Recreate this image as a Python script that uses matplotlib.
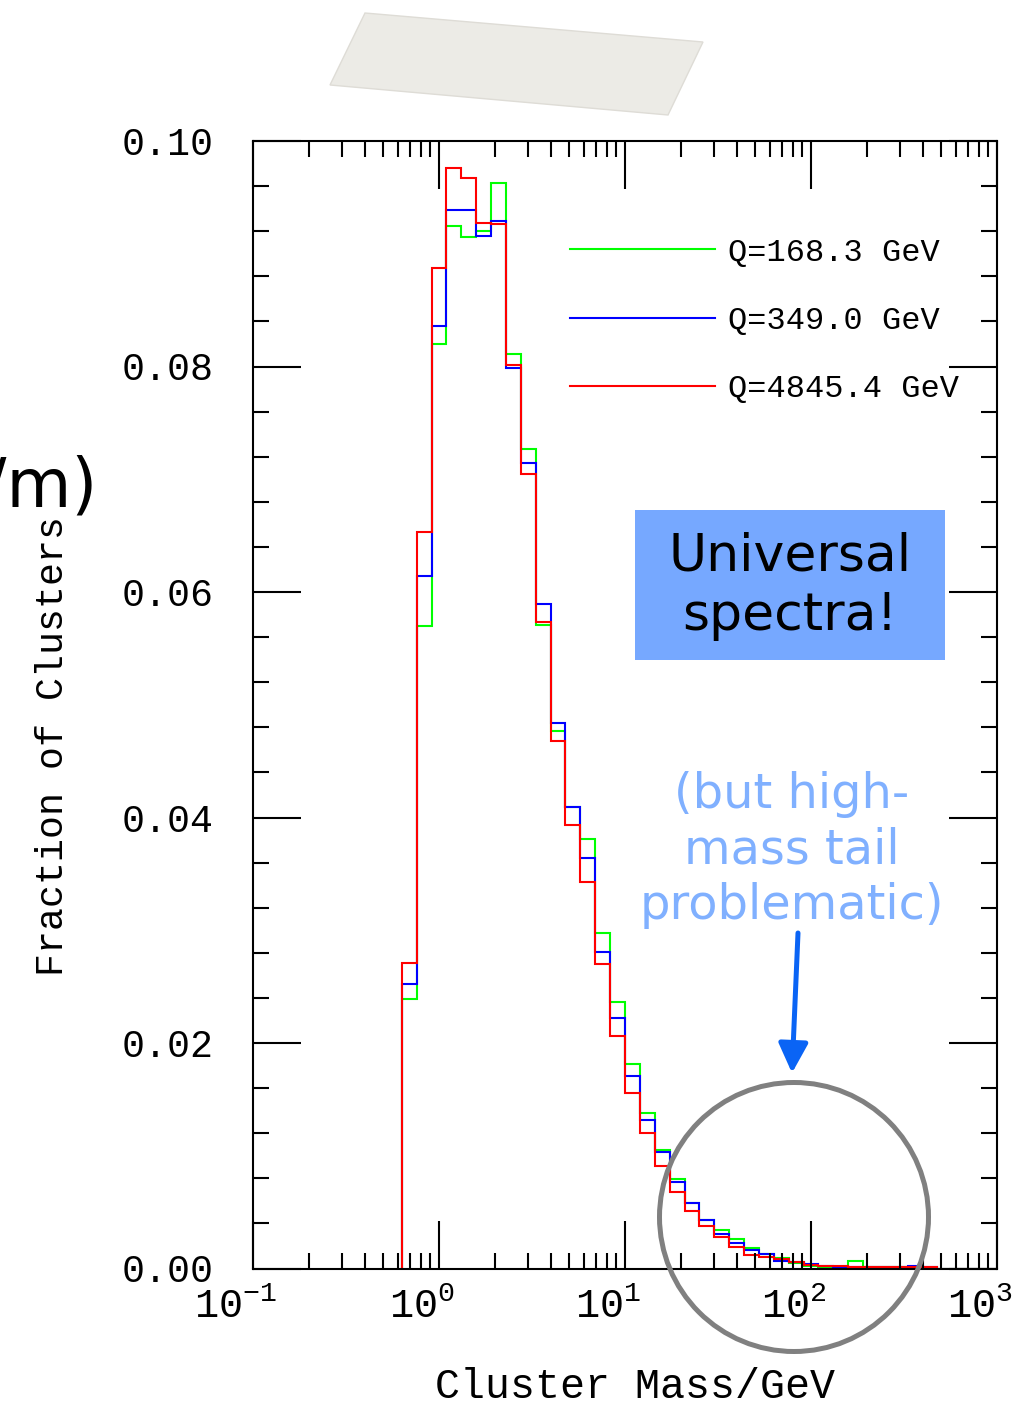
import matplotlib
matplotlib.use("Agg")
import matplotlib.pyplot as plt
import numpy as np
from matplotlib.patches import Rectangle, Circle, Polygon
from matplotlib.ticker import FixedLocator, LogLocator, MultipleLocator, NullFormatter
from matplotlib.transforms import ScaledTranslation

plt.rcParams['font.family'] = ['Liberation Mono', 'DejaVu Sans']
plt.rcParams['mathtext.fontset'] = 'custom'
plt.rcParams['mathtext.rm'] = 'Liberation Mono'
plt.rcParams['mathtext.it'] = 'Liberation Mono'
plt.rcParams['mathtext.bf'] = 'Liberation Mono'

# log10 bin edges: 40 bins of 0.08 decades from 10^-0.2 up to 10^3
edges = 10 ** (-0.2 + 0.08 * np.arange(41))

labels = ['Q=168.3 GeV', 'Q=349.0 GeV', 'Q=4845.4 GeV']
colors = ['#00ff00', '#0000ff', '#ff0000']

frac_q168 = [0.0239, 0.0570, 0.0820, 0.0925, 0.0915, 0.0920, 0.0963, 0.0811,
             0.0727, 0.0571, 0.0477, 0.0409, 0.0381, 0.0298, 0.0236, 0.0181,
             0.0138, 0.0105, 0.0079, 0.0058, 0.0043, 0.0034, 0.0026, 0.0018,
             0.0013, 0.0009, 0.0005, 0.0002, 0.0001, 0.0001, 0.0007, 0.0001,
             0.0001, 0.0001, 0.0000, 0.0000, 0.0000, 0.0000, 0.0000, 0.0000]
frac_q349 = [0.0252, 0.0614, 0.0836, 0.0939, 0.0939, 0.0916, 0.0929, 0.0799,
             0.0714, 0.0589, 0.0484, 0.0409, 0.0364, 0.0281, 0.0222, 0.0171,
             0.0132, 0.0103, 0.0077, 0.0058, 0.0043, 0.0031, 0.0023, 0.0016,
             0.0013, 0.0007, 0.0006, 0.0004, 0.0002, 0.0001, 0.0001, 0.0001,
             0.0001, 0.0001, 0.0002, 0.0001, 0.0000, 0.0000, 0.0000, 0.0000]
frac_q4845 = [0.0271, 0.0653, 0.0887, 0.0976, 0.0967, 0.0927, 0.0926, 0.0801,
              0.0705, 0.0573, 0.0468, 0.0393, 0.0343, 0.0270, 0.0206, 0.0156,
              0.0120, 0.0091, 0.0068, 0.0051, 0.0038, 0.0028, 0.0019, 0.0012,
              0.0010, 0.0008, 0.0006, 0.0003, 0.0002, 0.0002, 0.0001, 0.0001,
              0.0001, 0.0001, 0.0001, 0.0001, 0.0000, 0.0000, 0.0000, 0.0000]
series = [frac_q168, frac_q349, frac_q4845]

fig = plt.figure(figsize=(10.36, 14.07), dpi=100)
ax = fig.add_axes([253/1036, 1 - 1268.5/1407, 744/1036, 1127.5/1407])

for vals, c, lab in zip(series, colors, labels):
    ax.stairs(vals, edges, baseline=0, color=c, lw=1.5, label=lab)

ax.set_xscale('log')
ax.set_xlim(0.1, 1000)
ax.set_ylim(0, 0.10)

ax.xaxis.set_major_locator(FixedLocator([0.1, 1, 10, 100, 1000]))
ax.set_xticklabels([r'$10^{-1}$', r'$10^{0}$', r'$10^{1}$', r'$10^{2}$', r'$10^{3}$'])
ax.xaxis.set_minor_locator(LogLocator(base=10, subs=np.arange(2, 10)))
ax.xaxis.set_minor_formatter(NullFormatter())
ax.yaxis.set_minor_locator(MultipleLocator(0.004))
ax.set_yticks(np.arange(0, 0.101, 0.02))
ax.set_yticklabels(['0.00', '0.02', '0.04', '0.06', '0.08', '0.10'])

ax.tick_params(which='both', direction='in', top=True, right=True, width=1.5)
ax.tick_params(which='major', length=34.5)
ax.tick_params(which='minor', length=11.5)
ax.tick_params(axis='y', which='major', labelsize=27.5, pad=28)
ax.tick_params(axis='x', which='major', labelsize=29, pad=14)
for s in ax.spines.values():
    s.set_linewidth(1.5)

for lbl in ax.get_xticklabels():
    lbl.set_transform(lbl.get_transform() + ScaledTranslation(-0.17, 0, fig.dpi_scale_trans))

ax.set_xlabel('Cluster Mass/GeV', fontsize=30, va='baseline')
ax.xaxis.set_label_coords((635 - 253) / 744, (1268.5 - 1398) / 1127.5)
ax.set_ylabel('Fraction of Clusters', fontsize=27.5, va='baseline')
ax.yaxis.set_label_coords((63 - 253) / 744, (1268.5 - 746) / 1127.5)

ax.legend(loc='center left', bbox_to_anchor=(570/1036, 1 - 321/1407),
          bbox_transform=fig.transFigure, frameon=False, fontsize=23,
          borderpad=0, borderaxespad=0, handlelength=4.55, handletextpad=0.4,
          labelspacing=1.2)

# overlays (slide annotations), placed in inches from the bottom-left
T = fig.dpi_scale_trans
H = 14.07
fig.add_artist(Polygon([(3.65, H - 0.13), (7.03, H - 0.42), (6.68, H - 1.15), (3.30, H - 0.85)],
                       closed=True, facecolor='#ecebe6', edgecolor='#dedcd6', lw=1, transform=T))
fig.add_artist(Rectangle((6.35, H - 6.60), 3.10, 1.50, facecolor='#76a8ff', edgecolor='none', transform=T))
fig.text(7.90, H - 5.86, 'Universal\nspectra!', transform=T, ha='center', va='center',
         fontsize=37.5, family='DejaVu Sans', color='black', linespacing=1.25)
fig.text(7.92, H - 8.50, '(but high-\nmass tail\nproblematic)', transform=T, ha='center', va='center',
         fontsize=34.5, family='DejaVu Sans', color='#80b0ff', linespacing=1.23)
fig.text(0.97, H - 4.88, '/m)', transform=T, ha='right', va='center',
         fontsize=48, family='DejaVu Sans', color='black')
fig.add_artist(Circle((7.94, H - 12.17), 1.345, fill=False, edgecolor='#808080', lw=3.6, transform=T))
ax.annotate('', xy=(792, 1407 - 1073), xycoords='figure pixels',
            xytext=(798, 1407 - 933), textcoords='figure pixels',
            arrowprops=dict(arrowstyle='-|>,head_length=1.0,head_width=0.5', lw=3.6,
                            color='#0a64f5', shrinkA=0, shrinkB=0, mutation_scale=18))

fig.savefig('out.png', dpi=100)
